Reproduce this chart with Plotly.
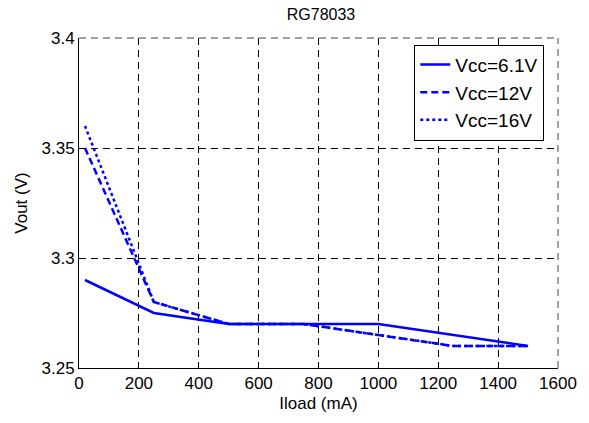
import plotly.graph_objects as go

iload_61 = [20, 250, 500, 750, 1000, 1500]
vout_61 = [3.29, 3.275, 3.27, 3.27, 3.27, 3.26]
iload_12 = [20, 250, 500, 750, 1000, 1250, 1500]
vout_12 = [3.35, 3.28, 3.27, 3.27, 3.265, 3.26, 3.26]
iload_16 = [20, 250, 500, 750, 1000, 1250, 1500]
vout_16 = [3.36, 3.28, 3.27, 3.27, 3.265, 3.26, 3.26]

x_ticks = [0, 200, 400, 600, 800, 1000, 1200, 1400, 1600]
y_ticks = [3.25, 3.3, 3.35, 3.4]
y_tick_text = ["3.25", "3.3", "3.35", "3.4"]

FONT = "Liberation Sans, Arial, sans-serif"
BLUE = "#0000FF"
GRID_DASH = "7px,5px"

fig = go.Figure()
fig.add_trace(go.Scatter(x=iload_61, y=vout_61, mode="lines", name="Vcc=6.1V",
                         line=dict(color=BLUE, width=2.5, dash="solid")))
fig.add_trace(go.Scatter(x=iload_12, y=vout_12, mode="lines", name="Vcc=12V",
                         line=dict(color=BLUE, width=2.5, dash="7px,4px")))
fig.add_trace(go.Scatter(x=iload_16, y=vout_16, mode="lines", name="Vcc=16V",
                         line=dict(color=BLUE, width=2.5, dash="dot")))

# top and right borders dashed (MATLAB grid look)
fig.add_shape(type="line", xref="paper", yref="paper", x0=0, x1=1, y0=1, y1=1,
              line=dict(color="#444444", width=1, dash=GRID_DASH), layer="below")
fig.add_shape(type="line", xref="paper", yref="paper", x0=1, x1=1, y0=0, y1=1,
              line=dict(color="#444444", width=1, dash=GRID_DASH), layer="below")

fig.update_layout(
    width=589, height=423,
    margin=dict(l=79, r=28, t=38, b=55),
    paper_bgcolor="white", plot_bgcolor="white",
    font=dict(family=FONT, size=17, color="black"),
    title=dict(text="RG78033", x=0.545, xanchor="center", y=0.967, yanchor="middle",
               font=dict(family=FONT, size=16, color="black")),
    showlegend=True,
    legend=dict(x=0.7, y=0.98, xanchor="left", yanchor="top",
                bgcolor="white", bordercolor="black", borderwidth=1,
                font=dict(family=FONT, size=19, color="black"),
                tracegroupgap=0, itemwidth=30),
    xaxis=dict(range=[0, 1600], tickvals=x_ticks, ticks="inside", ticklen=5,
               tickcolor="black", showline=True, linecolor="black", linewidth=1,
               showgrid=True, gridcolor="black", gridwidth=1, griddash=GRID_DASH,
               zeroline=False, tickfont=dict(family=FONT, size=17),
               title=dict(text="Iload (mA)", font=dict(family=FONT, size=17), standoff=4)),
    yaxis=dict(range=[3.25, 3.4], tickvals=y_ticks, ticktext=y_tick_text,
               ticks="inside", ticklen=5,
               tickcolor="black", showline=True, linecolor="black", linewidth=1,
               showgrid=True, gridcolor="black", gridwidth=1, griddash=GRID_DASH,
               zeroline=False, tickfont=dict(family=FONT, size=17),
               title=dict(text="Vout (V)", font=dict(family=FONT, size=17), standoff=9)),
)

fig.write_html("out.html")
